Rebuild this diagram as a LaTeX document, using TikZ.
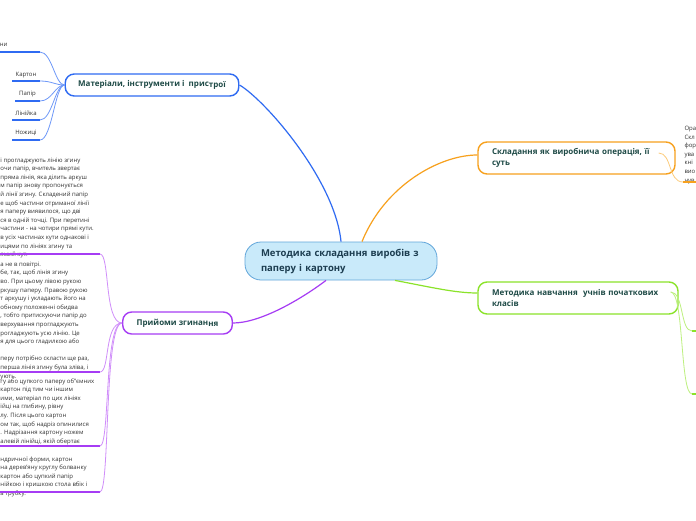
\documentclass[tikz,border=0pt]{standalone}
\usepackage{fontspec}
\setmainfont{Open Sans}
\usetikzlibrary{arrows.meta, positioning, calc}
\definecolor{cblue}{HTML}{2F6BF2}
\definecolor{cbluel}{HTML}{6E98F8}
\definecolor{corange}{HTML}{F7A11E}
\definecolor{corangel}{HTML}{FCCB7A}
\definecolor{cgreen}{HTML}{8BE32A}
\definecolor{cgreenl}{HTML}{BDF07F}
\definecolor{cpurple}{HTML}{A63CF4}
\definecolor{cpurplel}{HTML}{D08EFA}
\definecolor{ccentre}{HTML}{C9EAFA}
\definecolor{ccentreb}{HTML}{62A6DA}
\definecolor{ctitle}{HTML}{1E4A46}
\definecolor{cnavy}{HTML}{1C3D50}
\definecolor{ctext}{HTML}{333333}
\tikzset{
  every picture/.style={line width=1pt},
  topic/.style={draw=#1, fill=white, line width=1.4pt, rounded corners=9pt, align=left, inner xsep=14pt, inner ysep=0pt, text=ctitle, font=\fontsize{8}{11}\selectfont\bfseries},
  centre/.style={draw=ccentreb, fill=ccentre, line width=0.8pt, rounded corners=16pt, align=left, inner xsep=16pt, text width=160pt, minimum height=38pt, text=cnavy, font=\fontsize{9.5}{15}\selectfont\bfseries},
  branch/.style={draw=#1, line width=1.2pt},
  twig/.style={draw=#1, line width=0.8pt},
  under/.style={draw=#1, line width=1.8pt},
  % anchored at the baseline of the last line
  txt/.style={font=\fontsize{6}{8.6}\selectfont, text=ctext, align=left, inner sep=0pt, anchor=base west},
  leaf/.style={font=\fontsize{6}{7}\selectfont, text=ctext, inner sep=0pt},
}

\begin{document}
\begin{tikzpicture}[x=1pt, y=-1pt]
  \fill[white] (0,0) rectangle (696,520);
  \useasboundingbox (0,0) rectangle (696,520);

  % ---- centre and topics
  \node[centre] (root) at (341,261) {Методика складання виробів з\\паперу і картону};
  \node[topic=cblue, inner xsep=13pt, minimum height=22pt] (mat) at (152,85) {Матеріали, інструменти і~ прис\raisebox{-1pt}{трої}};
  \node[topic=corange, text width=169pt, minimum height=32pt] (skl) at (576.5,158) {Складання як виробнича операція, її\\суть};
  \node[topic=cgreen, text width=172pt, minimum height=32pt] (nav) at (578,298) {Методика навчання~ учнів початкових\\класів};
  \node[topic=cpurple, minimum height=22pt] (pry) at (177.5,323) {Прийоми згинан\raisebox{-1pt}{ня}};

  \draw[branch=cblue] (root.north) .. controls (335,180) and (265,100) .. (mat.east);
  \draw[branch=corange] ([xshift=21pt]root.north) .. controls (385,185) and (440,155) .. ([yshift=3pt]skl.west);
  \draw[branch=cgreen] ([xshift=54pt]root.south) .. controls (430,287) and (455,293) .. ([yshift=5pt]nav.west);
  \draw[branch=cpurple] ([xshift=-15pt]root.south) .. controls (300,300) and (260,323) .. (pry.east);

  % ---- materials
  \node[leaf, anchor=east] (l0) at (8,45) {ни};
  \node[leaf] (l1) at (26,75) {Картон};
  \node[leaf] (l2) at (27.5,94) {Папір};
  \node[leaf] (l3) at (26,113) {Лінійка};
  \node[leaf] (l4) at (26,133) {Ножиці};
  \foreach \n/\y/\x in {0/52/0, 1/81/12, 2/101/15, 3/120/12, 4/140/12} {
    \coordinate (ua\n) at (\x,\y);
    \coordinate (ub\n) at (40,\y);
    \draw[under=cblue] (ua\n) -- (ub\n);
    \draw[twig=cbluel] (ub\n) .. controls (52,\y) and (55,85) .. (mat.west);
  }

  % ---- folding
  \node[txt] (t1) at (0,256.6) {і прогладжують лінію згину\\очи папір, вчитель звертає\\пряма лінія, яка ділить аркуш\\м папір знову пропонується\\й лінії згину. Складений папір\\е щоб частини отриманої лінії\\я паперу виявилося, що дві\\ся в одній точці. При перетині\\частини - на чотири прямі кути.\\в усіх частинах кути однакові і\\ицями по лініях згину та\\ямий кут.};
  \node[txt] (t2) at (0,378) {а не в повітрі.\\бе, так, щоб лінія згину\\во. При цьому лівою рукою\\ркушу паперу. Правою рукою\\т аркушу і укладають його на\\обному положенні обидва\\, тобто притискуючи папір до\\верхування прогладжують\\рогладжують усю лінію. Це\\я для цього гладилкою або\\[8.6pt]перу потрібно скласти ще раз,\\перша лінія згину була зліва, і\\ують.};
  \node[txt] (t3) at (0,443.2) {гу або цупкого паперу об"ємних\\картон під тим чи іншим\\ими, матеріал по цих лініях\\ійці на глибину, рівну\\лу. Після цього картон\\ом так, щоб надріз опинилися\\. Надрізання картону ножем\\алевій лінійці, якій обертає};
  \node[txt] (t4) at (0,495.4) {ндричної форми, картон\\на дерев'яну круглу болванку\\картон або цупкий папір\\нійкою і кришкою стола вбік і\\а трубку.};
  \foreach \n/\y in {1/254, 2/372, 3/446, 4/492} {
    \coordinate (pa\n) at (0,\y);
    \coordinate (pb\n) at (100,\y);
    \draw[under=cpurple] (pa\n) -- (pb\n);
    \draw[twig=cpurplel] (pb\n) .. controls (110,\y) and (104,323) .. (pry.west);
  }

  % ---- right side
  \node[txt] (t5) at (684,182) {Ора\\Скл\\фор\\ува\\кні\\вио\\чув};
  \coordinate (oa) at (683,182);
  \coordinate (ob) at (696,182);
  \draw[under=corange] (oa) -- (ob);
  \draw[twig=corangel] ([xshift=-17pt,yshift=5pt]skl.east) .. controls (672,153) and (668,182) .. (oa);
  \foreach \n/\y in {1/331, 2/394} {
    \coordinate (ga\n) at (692,\y);
    \coordinate (gb\n) at (696,\y);
    \draw[under=cgreen] (ga\n) -- (gb\n);
    \draw[twig=cgreenl] ([xshift=-8pt,yshift=6pt]nav.east) .. controls (684,292) and (680,\y) .. (ga\n);
  }
\end{tikzpicture}
\end{document}
